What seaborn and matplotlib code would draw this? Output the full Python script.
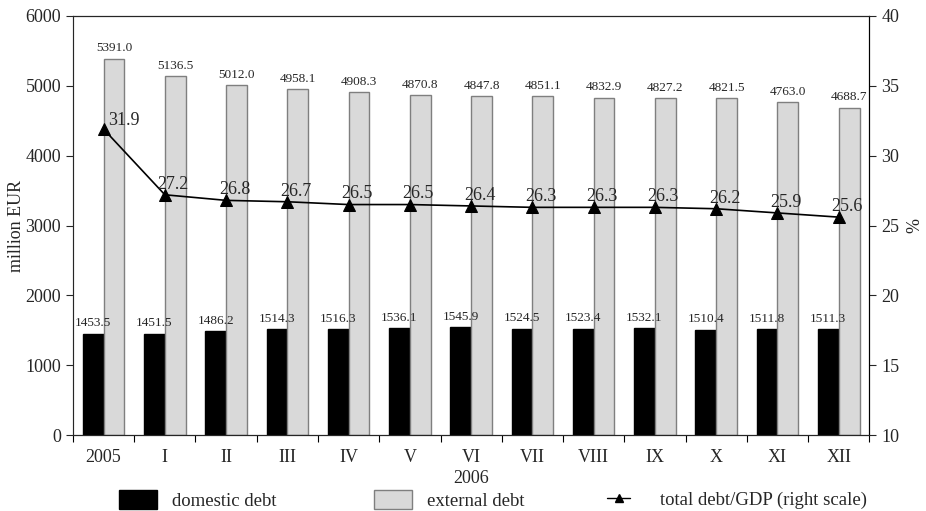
import numpy as np
import pandas as pd
import matplotlib
matplotlib.use("Agg")
import matplotlib.pyplot as plt
import seaborn as sns
from matplotlib.patches import Patch
from matplotlib.lines import Line2D

# valeurs
months = ["2005", "I", "II", "III", "IV", "V", "VI", "VII", "VIII", "IX", "X", "XI", "XII"]
domestic = [1453.5, 1451.5, 1486.2, 1514.3, 1516.3, 1536.1, 1545.9, 1524.5, 1523.4, 1532.1, 1510.4, 1511.8, 1511.3]
external = [5391.0, 5136.5, 5012.0, 4958.1, 4908.3, 4870.8, 4847.8, 4851.1, 4832.9, 4827.2, 4821.5, 4763.0, 4688.7]
debt_gdp = [31.9, 27.2, 26.8, 26.7, 26.5, 26.5, 26.4, 26.3, 26.3, 26.3, 26.2, 25.9, 25.6]

df = pd.DataFrame({
    "month": months * 2,
    "value": domestic + external,
    "series": ["domestic debt"] * len(months) + ["external debt"] * len(months),
})

sns.set_style("white")
plt.rcParams["font.family"] = ["Liberation Serif", "DejaVu Serif"]

fig = plt.figure(figsize=(9.26, 5.11), dpi=100)
ax = fig.add_axes([0.0788, 0.1487, 0.86, 0.82])

sns.barplot(data=df, x="month", y="value", hue="series", order=months,
            palette=["black", "#d9d9d9"], width=0.68, saturation=1,
            legend=False, ax=ax)

# bordures des barres + etiquettes
for cont, edge in zip(ax.containers, ["black", "#7f7f7f"]):
    for p in cont:
        p.set_edgecolor(edge)
        p.set_linewidth(1.0)
    ax.bar_label(cont, fmt="%.1f", fontsize=9.5, padding=3)

ax.set_ylim(0, 6000)
ax.set_xlim(-0.5, len(months) - 0.5)
ax.set_yticks(range(0, 6001, 1000))
ax.set_ylabel("million EUR", fontsize=13, labelpad=0)
ax.set_xlabel("2006", fontsize=13, labelpad=3)

# ticks entre les groupes, etiquettes au centre
ax.set_xticks(np.arange(-0.5, len(months)), minor=False)
ax.set_xticklabels([])
ax.set_xticks(np.arange(len(months)), minor=True)
ax.set_xticklabels(months, minor=True)
ax.tick_params(axis="x", which="major", length=5, direction="out", bottom=True, color="black")
ax.tick_params(axis="x", which="minor", length=0, pad=10, labelsize=13)
ax.tick_params(axis="y", length=5, direction="out", left=True, labelsize=13)

for s in ["top", "bottom", "right"]:
    ax.spines[s].set_color("black")
ax.spines["left"].set_color("#7f7f7f")

ax2 = ax.twinx()
sns.lineplot(x=np.arange(len(months)), y=debt_gdp, color="black", marker="^",
             markersize=8, markeredgecolor="black", linewidth=1.2, ax=ax2)
ax2.set_ylim(10, 40)
ax2.set_yticks(range(10, 41, 5))
ax2.set_ylabel("%", fontsize=13, labelpad=5)
ax2.tick_params(axis="y", length=5, direction="out", right=True, labelsize=13)
ax2.spines["right"].set_color("black")

for i, v in enumerate(debt_gdp):
    if i == 0:
        ax2.annotate(f"{v:.1f}", (i, v), xytext=(3, 0), textcoords="offset points",
                     ha="left", va="bottom", fontsize=13)
    else:
        ax2.annotate(f"{v:.1f}", (i, v), xytext=(6, 1.5), textcoords="offset points",
                     ha="center", va="bottom", fontsize=13)

# legende en trois morceaux, places comme sur l'original
W, H = 926, 511
legend_items = [
    (Patch(facecolor="black", edgecolor="black"), "domestic debt", 119, 2.0, 1.2, 0.85),
    (Patch(facecolor="#d9d9d9", edgecolor="#7f7f7f"), "external debt", 374, 2.0, 1.2, 0.85),
    (Line2D([], [], color="black", marker="^", markersize=6, linewidth=1.0),
     "total debt/GDP (right scale)", 607, 1.25, 0.7, 1.6),
]
for handle, label, x0, hl, hh, tp in legend_items:
    fig.legend([handle], [label], loc="center left",
               bbox_to_anchor=(x0 / W, 1 - 500 / H), frameon=False,
               fontsize=13.5, handlelength=hl, handleheight=hh,
               handletextpad=tp, borderpad=0, borderaxespad=0)

plt.savefig("out.png", dpi=100)
